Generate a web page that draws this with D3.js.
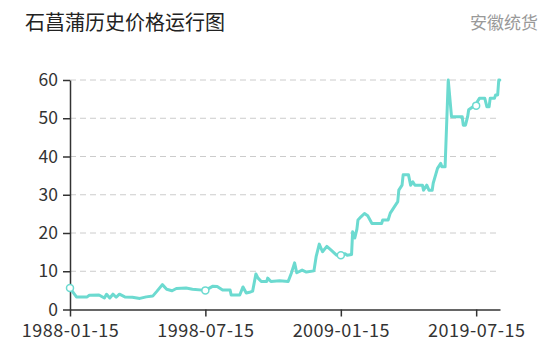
<!DOCTYPE html>
<html>
<head>
<meta charset="utf-8">
<script src="https://cdn.jsdelivr.net/npm/d3@7"></script>
<style>
  html, body { margin: 0; padding: 0; background: #fff; }
  svg { display: block; }
</style>
</head>
<body>
<svg id="chart" width="559" height="352"></svg>
<script>
const title = "石菖蒲历史价格运行图";
const subtitle = "安徽统货";

const dates = [
  "1988-01","1988-07","1989-05","1989-07","1990-04","1990-09","1990-11","1991-02","1991-05","1991-08",
  "1991-11","1992-04","1992-11","1993-06","1993-12","1994-06","1994-10","1995-03","1995-07","1995-12",
  "1996-04","1997-01","1997-07","1998-07","1999-02","1999-06","1999-11","2000-06","2000-07","2001-03",
  "2001-06","2001-09","2001-12","2002-03","2002-06","2002-08","2002-11","2003-04","2003-05","2003-08",
  "2004-04","2004-12","2005-03","2005-06","2005-08","2006-01","2006-05","2006-12","2007-02","2007-05",
  "2007-08","2007-12","2008-04","2008-09","2009-01","2009-05","2009-07","2009-11","2009-12","2010-02",
  "2010-04","2010-05","2010-08","2010-11","2011-02","2011-06","2012-03","2012-04","2012-09","2012-11",
  "2013-02","2013-06","2013-07","2013-10","2013-11","2014-04","2014-06","2014-08","2014-10","2015-05",
  "2015-06","2015-09","2015-11","2016-02","2016-03","2016-07","2016-10","2016-11","2017-02","2017-05",
  "2017-08","2018-06","2018-07","2018-09","2018-11","2018-12","2019-04","2019-07","2019-08","2019-10",
  "2020-03","2020-05","2020-07","2020-08","2020-12","2021-01","2021-03","2021-04","2021-05"
];
const prices = [
  5.6, 3.3, 3.3, 3.7, 3.8, 3.0, 4.0, 3.0, 4.0, 3.2,
  4.0, 3.3, 3.2, 2.9, 3.3, 3.5, 4.8, 6.5, 5.3, 4.9,
  5.5, 5.6, 5.3, 5.0, 6.1, 6.0, 5.1, 5.1, 3.8, 3.8,
  5.9, 4.3, 4.5, 4.8, 9.3, 8.2, 7.3, 7.3, 8.2, 7.3,
  7.5, 7.3, 9.5, 12.2, 9.6, 10.3, 9.8, 10.1, 13.8, 17.1,
  15.1, 16.5, 15.5, 14.2, 14.2, 14.6, 14.2, 14.4, 20.3, 18.7,
  21.0, 23.4, 24.3, 25.1, 24.5, 22.5, 22.5, 23.4, 23.4, 25.2,
  26.5, 28.2, 31.2, 32.5, 35.2, 35.2, 32.5, 33.4, 32.5, 32.5,
  31.2, 32.5, 31.2, 31.2, 33.0, 36.9, 38.2, 37.3, 37.3, 60.0,
  50.4, 50.4, 48.2, 48.2, 50.4, 52.2, 53.0, 53.3, 54.3, 55.2,
  55.2, 53.0, 53.0, 55.2, 55.2, 56.1, 56.1, 60.0, 60.0
];
const xTickLabels = ["1988-01-15", "1998-07-15", "2009-01-15", "2019-07-15"];
const markerDates = ["1988-01", "1998-07", "2009-01", "2019-07"];
const yTicks = [0, 10, 20, 30, 40, 50, 60];

const parseMonth = d3.timeParse("%Y-%m");
const parseDay = d3.timeParse("%Y-%m-%d");
const data = dates.map((d, i) => ({ date: d3.timeDay.offset(parseMonth(d), 14), value: prices[i], key: d }));

const margin = { left: 70, right: 59, top: 80, bottom: 42.5 };
const W = 559, H = 352;
const svg = d3.select("#chart");

const x = d3.scaleTime()
  .domain([parseDay("1988-01-15"), parseDay("2021-05-20")])
  .range([margin.left, W - margin.right]);
const y = d3.scaleLinear().domain([0, 60]).range([H - margin.bottom, margin.top]);

const fontFamily = "'Noto Sans CJK SC', 'Noto Sans', sans-serif";
const color = "#6cdad0";

// title
svg.append("text").attr("x", 25).attr("y", 30)
  .attr("font-family", fontFamily).attr("font-size", 20).attr("fill", "#222")
  .text(title);
svg.append("text").attr("x", 538).attr("y", 29).attr("text-anchor", "end")
  .attr("font-family", fontFamily).attr("font-size", 17).attr("fill", "#999")
  .text(subtitle);

// grid
svg.append("g").selectAll("line").data(yTicks.filter(t => t > 0)).join("line")
  .attr("x1", margin.left).attr("x2", W - margin.right)
  .attr("y1", d => y(d)).attr("y2", d => y(d))
  .attr("stroke", "#ccc").attr("stroke-width", 1).attr("stroke-dasharray", "6,4");

// y axis
const yAxis = svg.append("g").attr("transform", `translate(${margin.left},0)`)
  .call(d3.axisLeft(y).tickValues(yTicks).tickSize(7).tickPadding(5).tickSizeOuter(0));
yAxis.select(".domain").attr("stroke", "#333").attr("stroke-width", 1.5);
yAxis.selectAll(".tick line").attr("stroke", "#333").attr("stroke-width", 1.5);
yAxis.selectAll(".tick text").attr("font-family", fontFamily).attr("font-size", 17.5).attr("fill", "#333");

// x axis
const xAxis = svg.append("g").attr("transform", `translate(0,${y(0)})`)
  .call(d3.axisBottom(x).tickValues(xTickLabels.map(parseDay)).tickFormat(d3.timeFormat("%Y-%m-%d"))
    .tickSize(7).tickPadding(8).tickSizeOuter(0));
xAxis.select(".domain").attr("stroke", "#333").attr("stroke-width", 1.5);
xAxis.selectAll(".tick line").attr("stroke", "#333").attr("stroke-width", 1.5);
xAxis.selectAll(".tick text").attr("font-family", fontFamily).attr("font-size", 18)
  .attr("letter-spacing", "0.5px").attr("fill", "#333");

// line
const line = d3.line().x(d => x(d.date)).y(d => y(d.value));
svg.append("path").datum(data).attr("d", line)
  .attr("fill", "none").attr("stroke", color).attr("stroke-width", 3)
  .attr("stroke-linejoin", "round").attr("stroke-linecap", "round");

// markers
svg.append("g").selectAll("circle").data(data.filter(d => markerDates.includes(d.key))).join("circle")
  .attr("cx", d => x(d.date)).attr("cy", d => y(d.value)).attr("r", 3.5)
  .attr("fill", "#fff").attr("stroke", color).attr("stroke-width", 1.5);
</script>
</body>
</html>
